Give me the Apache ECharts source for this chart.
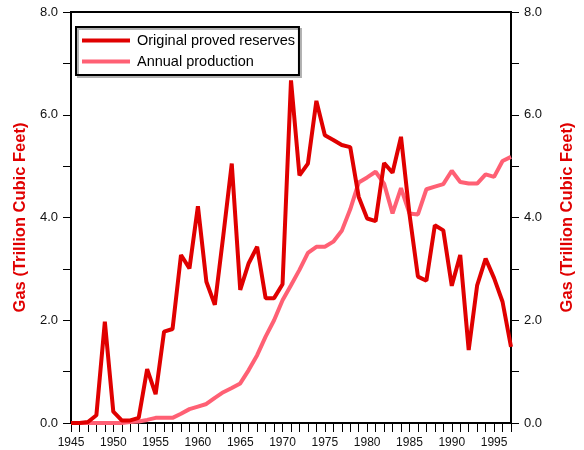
<!DOCTYPE html>
<html><head><meta charset="utf-8">
<script src="https://cdn.jsdelivr.net/npm/echarts@6/dist/echarts.min.js"></script>
<style>html,body{margin:0;padding:0;background:#fff}#c{width:584px;height:450px}</style>
</head><body><div id="c"></div>
<script>
const years = [];
for (let y = 1945; y <= 1997; y++) years.push(y);
const reserves = [0,0,0.02,0.15,1.97,0.22,0.05,0.05,0.1,1.05,0.56,1.78,1.83,3.27,3.01,4.22,2.75,2.3,3.65,5.05,2.59,3.11,3.43,2.43,2.43,2.7,6.67,4.82,5.05,6.27,5.6,5.51,5.41,5.37,4.4,3.98,3.93,5.06,4.87,5.57,4.07,2.85,2.77,3.85,3.75,2.67,3.27,1.42,2.68,3.2,2.82,2.36,1.48];
const production = [0,0,0,0,0,0,0,0.02,0.03,0.06,0.1,0.1,0.1,0.18,0.27,0.32,0.37,0.49,0.6,0.68,0.77,1.03,1.32,1.68,2.0,2.39,2.68,2.98,3.31,3.43,3.43,3.53,3.74,4.16,4.68,4.78,4.89,4.66,4.08,4.57,4.08,4.06,4.55,4.6,4.65,4.91,4.69,4.66,4.66,4.84,4.79,5.1,5.18];
const seriesNames = ['Original proved reserves','Annual production'];
const font = 'Arial, "Liberation Sans", sans-serif';
const chart = echarts.init(document.getElementById('c'));
const yAxisBase = (pos) => ({
  type:'value', position:pos, min:0, max:8, interval:2,
  name:'Gas (Trillion Cubic Feet)', nameLocation:'middle', nameGap: pos==='left'?37:48,
  nameTextStyle:{color:'#e00000', fontWeight:'bold', fontSize:16.5, fontFamily:font},
  axisLine:{show:true, lineStyle:{color:'#000', width:2}},
  axisTick:{show:true, inside:false, length:8, lineStyle:{color:'#000', width:1}},
  minorTick:{show:true, splitNumber:2, length:8, lineStyle:{color:'#000', width:1}},
  splitLine:{show:false},
  axisLabel:{color:'#111', fontSize:13, fontFamily:font, margin:13, formatter:v=>v.toFixed(1)}
});
chart.setOption({
  animation:false,
  backgroundColor:'#fff',
  grid:{left:71, right:67, top:12, bottom:27, show:true, borderColor:'#000', borderWidth:2},
  legend:{
    left:76, top:27, orient:'vertical',
    data:[{name:seriesNames[0], icon:'rect'},{name:seriesNames[1], icon:'rect'}],
    itemWidth:48, itemHeight:4, itemGap:6, padding:[6,4,6,6],
    backgroundColor:'#fff', borderColor:'#000', borderWidth:2,
    shadowColor:'#b0b0b0', shadowBlur:0, shadowOffsetX:2, shadowOffsetY:2,
    textStyle:{color:'#000', fontSize:14.5, lineHeight:14, fontFamily:font, padding:[0,0,0,2]}
  },
  xAxis:{
    type:'value', min:1945, max:1997, interval:5,
    axisLine:{show:true, onZero:false, lineStyle:{color:'#000', width:2}},
    axisTick:{show:true, inside:false, length:9, lineStyle:{color:'#000', width:1}},
    minorTick:{show:true, splitNumber:5, length:9, lineStyle:{color:'#000', width:1}},
    splitLine:{show:false},
    axisLabel:{color:'#111', fontSize:12, fontFamily:font, margin:14, formatter:v=> (v%5===0? String(v):''), showMaxLabel:false}
  },
  yAxis:[yAxisBase('left'), yAxisBase('right')],
  series:[
    {name:seriesNames[0], type:'line', symbol:'none', showSymbol:false, yAxisIndex:0,
     color:'#e00000', lineStyle:{color:'#e00000', width:4},
     data: years.map((y,i)=>[y, reserves[i]]), z:3},
    {name:seriesNames[1], type:'line', symbol:'none', showSymbol:false, yAxisIndex:0,
     color:'#ff6074', lineStyle:{color:'#ff6074', width:4},
     data: years.map((y,i)=>[y, production[i]]), z:2}
  ]
});
</script></body></html>
